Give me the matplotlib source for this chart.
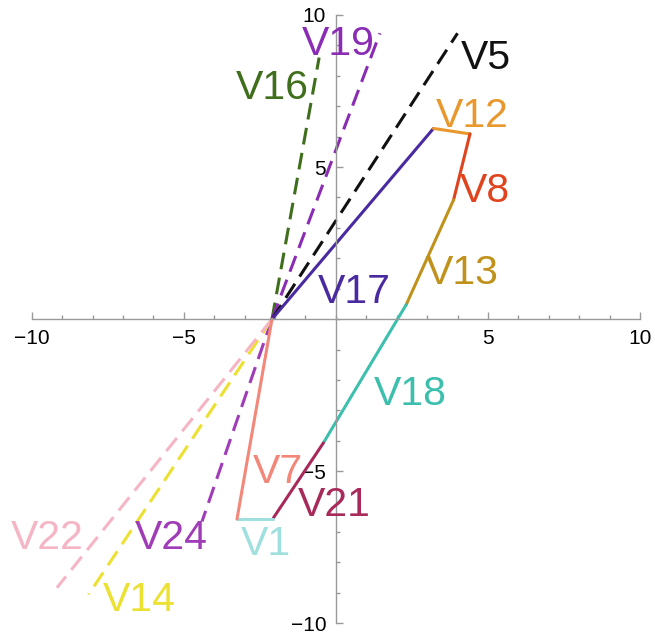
import matplotlib.pyplot as plt
from matplotlib.ticker import MultipleLocator, FixedLocator

plt.rcParams['font.family'] = ['Liberation Sans', 'DejaVu Sans']

# common vertex of the figure
origin = (-2.1, 0.0)

# dashed rays from the common vertex: name -> end point
ray_names = ["V16", "V19", "V5", "V24", "V14", "V22"]
ray_x = [-0.55, 1.45, 4.0, -4.4, -8.13, -9.17]
ray_y = [8.6, 9.4, 9.4, -6.65, -9.05, -8.83]
ray_colors = ["#3f6e1c", "#8a2cb4", "#111111", "#a03cb8", "#ece030", "#f5b5c5"]

# solid polygon edges: name -> start / end
seg_names = ["V17", "V12", "V8", "V13", "V18", "V21", "V1", "V7"]
seg_x0 = [-2.1, 3.21, 4.41, 3.87, 2.31, -0.41, -2.05, -3.25]
seg_y0 = [0.0, 6.27, 6.09, 3.92, 0.47, -4.07, -6.57, -6.57]
seg_x1 = [3.21, 4.41, 3.87, 2.31, -0.41, -2.05, -3.25, -2.1]
seg_y1 = [6.27, 6.09, 3.92, 0.47, -4.07, -6.53, -6.57, 0.0]
seg_colors = ["#4a2aa0", "#e8982c", "#e0441e", "#c0921c", "#3dbfae",
              "#a82a5a", "#9fe0df", "#f2877a"]

# label positions (data coords) for every edge
label_names = ["V16", "V19", "V5", "V12", "V8", "V13", "V17", "V18",
               "V7", "V21", "V1", "V24", "V22", "V14"]
label_x = [-2.09, 0.08, 4.94, 4.48, 4.91, 4.15, 0.6, 2.44,
           -1.9, -0.05, -2.3, -5.41, -9.5, -6.47]
label_y = [7.6, 9.05, 8.57, 6.68, 4.2, 1.52, 0.9, -2.45,
           -5.02, -6.1, -7.4, -7.18, -7.18, -9.23]
label_colors = ["#3f6e1c", "#8a2cb4", "#111111", "#e8982c", "#e0441e",
                "#c0921c", "#4a2aa0", "#3dbfae", "#f2877a", "#a82a5a",
                "#9fe0df", "#a03cb8", "#f5b5c5", "#ece030"]

fig = plt.figure(figsize=(6.55, 6.37), dpi=100)
ax = fig.add_axes([31.7 / 655, 13.7 / 637, 608.3 / 655, 608.3 / 637])

for x, y, c in zip(ray_x, ray_y, ray_colors):
    ax.plot([origin[0], x], [origin[1], y], color=c, lw=2.2,
            dashes=(5.5, 2.8), solid_capstyle='butt')

for x0, y0, x1, y1, c in zip(seg_x0, seg_y0, seg_x1, seg_y1, seg_colors):
    ax.plot([x0, x1], [y0, y1], color=c, lw=2.2, solid_capstyle='round')

for name, x, y, c in zip(label_names, label_x, label_y, label_colors):
    ax.text(x, y, name, color=c, fontsize=29.5, ha='center', va='center')

ax.set_xlim(-10, 10)
ax.set_ylim(-10, 10)
ax.spines['left'].set_position('zero')
ax.spines['bottom'].set_position('zero')
ax.spines['right'].set_visible(False)
ax.spines['top'].set_visible(False)
for s in ['left', 'bottom']:
    ax.spines[s].set_color('#999999')
    ax.spines[s].set_linewidth(1.0)

ax.xaxis.set_major_locator(FixedLocator([-10, -5, 5, 10]))
ax.yaxis.set_major_locator(FixedLocator([-10, -5, 5, 10]))
ax.xaxis.set_minor_locator(MultipleLocator(1))
ax.yaxis.set_minor_locator(MultipleLocator(1))
ax.set_xticklabels(["\u221210", "\u22125", "5", "10"])
ax.set_yticklabels(["\u221210", "\u22125", "5", "10"])
ax.tick_params(which='major', direction='in', length=5, width=1,
               color='#999999', labelsize=15, pad=7)
ax.tick_params(which='minor', direction='in', length=3, width=1,
               color='#999999')
ax.patch.set_alpha(0)

fig.savefig("out.png", dpi=100)
